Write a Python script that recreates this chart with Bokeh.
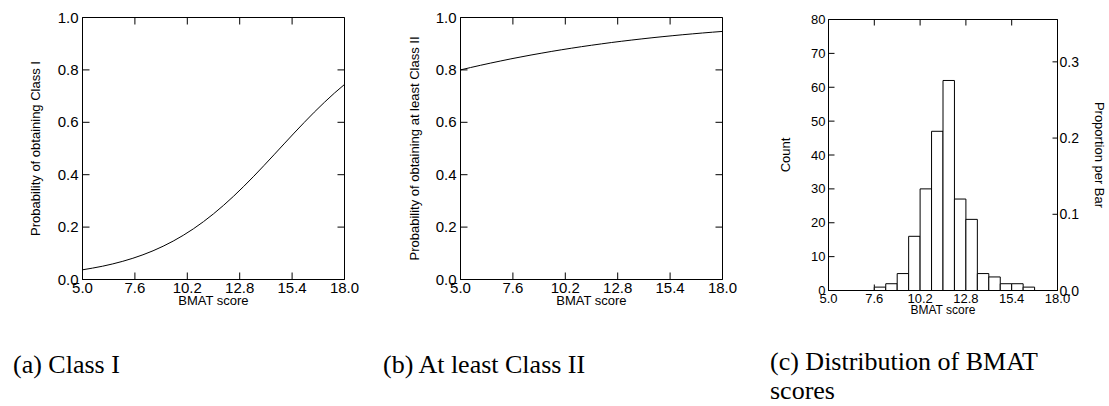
import math
from bokeh.plotting import figure
from bokeh.models import (LinearAxis, Range1d, FixedTicker, PrintfTickFormatter,
                          Div, ColumnDataSource)
from bokeh.layouts import row, column
from bokeh.embed import file_html
from bokeh.resources import INLINE

# ---------------- data ----------------
bmat_grid = [5.0, 5.5, 6.0, 6.5, 7.0, 7.5, 8.0, 8.5, 9.0, 9.5, 10.0, 10.5, 11.0,
             11.5, 12.0, 12.5, 13.0, 13.5, 14.0, 14.5, 15.0, 15.5, 16.0, 16.5,
             17.0, 17.5, 18.0]
prob_class1 = [0.037, 0.0435, 0.0508, 0.0595, 0.0695, 0.0811, 0.0944, 0.1096,
               0.127, 0.1466, 0.1687, 0.1933, 0.2206, 0.2506, 0.2831, 0.3181,
               0.3553, 0.3942, 0.4346, 0.4759, 0.5175, 0.5589, 0.5994, 0.6387,
               0.6761, 0.7115, 0.7444]
prob_class2 = [0.800, 0.809, 0.8177, 0.8261, 0.8342, 0.8421, 0.8495, 0.8568,
               0.8636, 0.8703, 0.8767, 0.8827, 0.8886, 0.8941, 0.8994, 0.9046,
               0.9094, 0.9140, 0.9184, 0.9226, 0.9266, 0.9304, 0.9341, 0.9375,
               0.9408, 0.9439, 0.9469]
bin_edges = [5.0, 5.65, 6.3, 6.95, 7.6, 8.25, 8.9, 9.55, 10.2, 10.85, 11.5,
             12.15, 12.8, 13.45, 14.1, 14.75, 15.4, 16.05, 16.7, 17.35, 18.0]
bin_counts = [0, 0, 0, 0, 1, 2, 5, 16, 30, 47, 62, 27, 21, 5, 4, 2, 2, 1, 0, 0]

x_ticks = [5.0, 7.6, 10.2, 12.8, 15.4, 18.0]
prob_ticks = [0.0, 0.2, 0.4, 0.6, 0.8, 1.0]
count_ticks = [0, 10, 20, 30, 40, 50, 60, 70, 80]
prop_ticks = [0.0, 0.1, 0.2, 0.3]

caption_a = "(a) Class I"
caption_b = "(b) At least Class II"
caption_c = "(c) Distribution of BMAT<br>scores"

# ---------------- styling ----------------
SANS = "Liberation Sans"
SERIF = "Liberation Serif"


def style_axis(ax, fs):
    ax.axis_line_color = "black"
    ax.axis_line_width = 1
    ax.major_tick_in = 0
    ax.major_tick_out = 0
    ax.major_tick_line_color = None
    ax.minor_tick_line_color = None
    ax.major_label_text_font = SANS
    ax.major_label_text_font_size = fs
    ax.major_label_text_color = "black"
    ax.axis_label_text_font = SANS
    ax.axis_label_text_font_style = "normal"
    ax.axis_label_text_color = "black"
    return ax


def make_fig(width, height, bl, br, bt, bb, x_rng, y_rng):
    p = figure(width=width, height=height, x_range=x_rng, y_range=y_rng,
               x_axis_type=None, y_axis_type=None, output_backend="svg",
               toolbar_location=None, min_border_left=bl, min_border_right=br,
               min_border_top=bt, min_border_bottom=bb)
    p.outline_line_color = "black"
    p.outline_line_width = 1
    p.background_fill_color = "white"
    p.border_fill_color = "white"
    return p


def inner_ticks(p, xs, ys, vertical, length, range_name="default"):
    # tick marks drawn on the frame edge; the frame clips the outer half
    p.scatter(x=xs, y=ys, marker="dash", size=2 * length,
              angle=(math.pi / 2 if vertical else 0.0),
              line_color="black", line_width=1, y_range_name=range_name)


def bottom_axis(p, fs, label_fs):
    ax = style_axis(LinearAxis(ticker=FixedTicker(ticks=x_ticks),
                               formatter=PrintfTickFormatter(format="%.1f")), fs)
    ax.major_label_standoff = 3
    ax.axis_label = "BMAT score"
    ax.axis_label_text_font_size = label_fs
    ax.axis_label_standoff = -3
    p.add_layout(ax, "below")


def prob_panel(width, bl, br, label, label_standoff, xs, ys):
    xr = Range1d(5.0, 18.0)
    yr = Range1d(0.0, 1.0)
    p = make_fig(width, 340, bl, br, 17, 61, xr, yr)
    bottom_axis(p, "15px", "13px")
    yl = style_axis(LinearAxis(ticker=FixedTicker(ticks=prob_ticks),
                               formatter=PrintfTickFormatter(format="%.1f")), "15px")
    yl.major_label_standoff = 4
    yl.axis_label = label
    yl.axis_label_text_font_size = "13px"
    yl.axis_label_standoff = label_standoff
    p.add_layout(yl, "left")
    n = len(x_ticks)
    m = len(prob_ticks)
    inner_ticks(p, x_ticks, [yr.start] * n, True, 7)
    inner_ticks(p, x_ticks, [yr.end] * n, True, 7)
    inner_ticks(p, [xr.start] * m, prob_ticks, False, 7)
    inner_ticks(p, [xr.end] * m, prob_ticks, False, 7)
    p.line(xs, ys, line_color="black", line_width=1)
    return p


# ---------------- panel (a) ----------------
pa = prob_panel(370, 82, 26, "Probability of obtaining Class I", 12,
                bmat_grid, prob_class1)

# ---------------- panel (b) ----------------
pb = prob_panel(370, 90, 18, "Probability of obtaining at least Class II", 11,
                bmat_grid, prob_class2)

# ---------------- panel (c) ----------------
total = sum(bin_counts)
xr_c = Range1d(5.0, 18.0)
yr_c = Range1d(0, 80)
pc = make_fig(369, 340, 88, 46, 19, 50, xr_c, yr_c)
pc.extra_y_ranges = {"prop": Range1d(0.0, 80.0 / total)}
bottom_axis(pc, "13px", "12px")
yl = style_axis(LinearAxis(ticker=FixedTicker(ticks=count_ticks)), "13px")
yl.major_label_standoff = 3
yl.axis_label = "Count"
yl.axis_label_text_font_size = "13px"
yl.axis_label_standoff = 15
pc.add_layout(yl, "left")
yr = style_axis(LinearAxis(y_range_name="prop", ticker=FixedTicker(ticks=prop_ticks),
                           formatter=PrintfTickFormatter(format="%.1f")), "14px")
yr.major_label_standoff = 2
yr.axis_label = "Proportion per Bar"
yr.axis_label_text_font_size = "13px"
yr.axis_label_standoff = 10
pc.add_layout(yr, "right")

n = len(x_ticks)
inner_ticks(pc, x_ticks, [yr_c.start] * n, True, 6)
inner_ticks(pc, x_ticks, [yr_c.end] * n, True, 6)
inner_ticks(pc, [xr_c.start] * len(count_ticks), count_ticks, False, 6)
inner_ticks(pc, [xr_c.end] * len(prop_ticks), prop_ticks, False, 5, "prop")

hist_src = ColumnDataSource(data=dict(left=bin_edges[:-1], right=bin_edges[1:],
                                      top=bin_counts, bottom=[0] * len(bin_counts)))
pc.quad(left="left", right="right", top="top", bottom="bottom", source=hist_src,
        fill_color="white", line_color="black", line_width=1)


# ---------------- captions ----------------
def caption(text, width, pad_left, pad_top):
    return Div(text=(f'<div style="font-family:\'{SERIF}\';font-size:26px;line-height:29px;'
                     f'color:black;white-space:nowrap;padding-left:{pad_left}px;'
                     f'padding-top:{pad_top}px;height:66px;overflow:hidden;'
                     f'box-sizing:border-box;">{text}</div>'),
               width=width, height=66, margin=0)


layout = row(
    column(pa, caption(caption_a, 370, 13, 10)),
    column(pb, caption(caption_b, 370, 13, 10)),
    column(pc, caption(caption_c, 369, 30, 7)),
)

open("out.html", "w").write(file_html(layout, INLINE))
